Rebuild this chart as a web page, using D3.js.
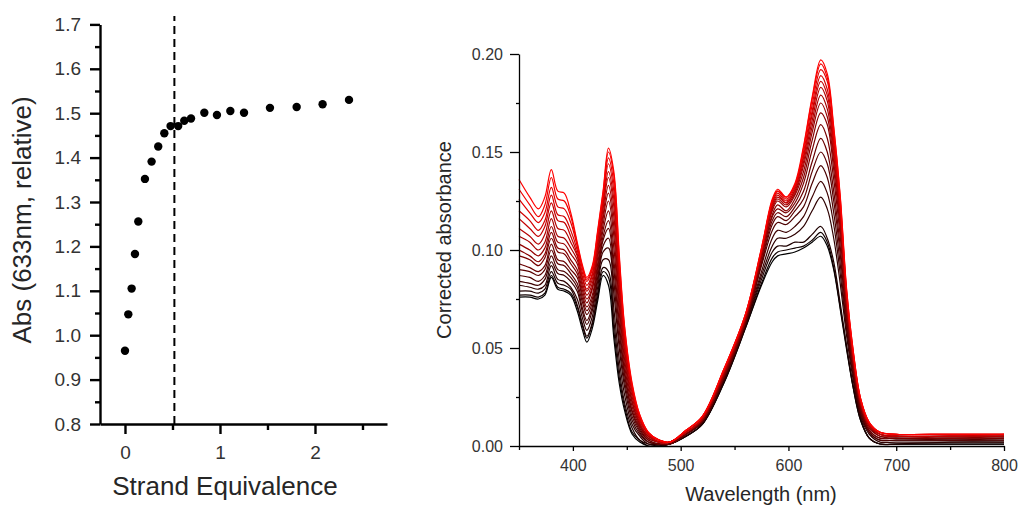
<!DOCTYPE html>
<html>
<head>
<meta charset="utf-8">
<script src="https://cdn.jsdelivr.net/npm/d3@7"></script>
<style>
  html, body { margin: 0; padding: 0; background: #fff; }
  svg { display: block; font-family: "Liberation Sans", Arial, sans-serif; }
</style>
</head>
<body>
<svg id="chart" width="1020" height="506"></svg>
<script>
// ---- Titration: absorbance at 633 nm vs strand equivalence ----
const strandEq = [0, 0.035, 0.07, 0.105, 0.14, 0.21, 0.28, 0.35, 0.414, 0.48, 0.56,
  0.624, 0.695, 0.835, 0.968, 1.109, 1.253, 1.526, 1.807, 2.08, 2.358];
const absRelative = [0.965, 1.047, 1.105, 1.183, 1.256, 1.352, 1.391, 1.425, 1.455, 1.471, 1.471,
  1.483, 1.488, 1.501, 1.496, 1.505, 1.501, 1.512, 1.514, 1.520, 1.530];
const equivalencePoint = 0.52;
const absTicks = [0.8, 0.9, 1.0, 1.1, 1.2, 1.3, 1.4, 1.5, 1.6, 1.7];
const absMinorTicks = [0.85, 0.95, 1.05, 1.15, 1.25, 1.35, 1.45, 1.55, 1.65];
const eqTicks = [0, 1, 2];
const eqMinorTicks = [0.5, 1.5, 2.5];

// ---- Corrected absorbance spectra over the titration ----
const wavelengths = [350, 360, 368, 374, 380, 386, 392, 398, 404, 409, 413, 418, 423, 428, 433, 438,
  443, 448, 455, 462, 470, 480, 490, 505, 520, 540, 560, 575, 585, 590, 598, 606, 614, 622, 630,
  636, 642, 648, 654, 660, 667, 675, 685, 700, 750, 800];
const spectra = [
  [.076,.076,.075,.077,.086,.080,.079,.077,.069,.059,.053,.060,.074,.087,.082,.055,.032,.018,.006,.002,.000,.000,.001,.005,.011,.032,.060,.082,.094,.097,.098,.099,.101,.104,.107,.102,.090,.070,.049,.030,.013,.004,.001,.001,.001,.001],
  [.077,.077,.076,.078,.087,.081,.080,.078,.071,.061,.055,.062,.076,.089,.086,.059,.035,.020,.007,.003,.000,.000,.001,.005,.011,.032,.060,.083,.096,.099,.100,.101,.102,.105,.109,.104,.091,.071,.050,.030,.013,.004,.001,.001,.001,.001],
  [.079,.079,.078,.080,.089,.083,.082,.080,.072,.062,.056,.063,.078,.091,.089,.064,.039,.022,.009,.003,.001,.000,.001,.005,.011,.033,.061,.085,.099,.102,.102,.104,.104,.108,.112,.106,.094,.073,.051,.031,.014,.004,.001,.001,.002,.002],
  [.082,.081,.080,.082,.092,.085,.084,.081,.075,.065,.059,.066,.081,.095,.095,.070,.044,.026,.011,.005,.001,.001,.001,.006,.012,.033,.061,.087,.102,.106,.106,.108,.112,.120,.127,.121,.106,.083,.056,.034,.015,.006,.002,.002,.002,.002],
  [.084,.083,.082,.085,.094,.088,.087,.084,.079,.068,.062,.069,.084,.099,.101,.078,.050,.030,.013,.006,.002,.001,.001,.006,.012,.034,.062,.089,.106,.110,.109,.112,.117,.127,.135,.129,.113,.088,.059,.036,.016,.007,.003,.003,.003,.003],
  [.087,.086,.084,.087,.097,.090,.089,.086,.081,.070,.064,.071,.086,.102,.106,.084,.054,.033,.015,.007,.002,.001,.001,.006,.012,.034,.062,.092,.110,.114,.113,.117,.122,.134,.143,.137,.119,.093,.061,.038,.017,.007,.003,.003,.003,.003],
  [.090,.089,.087,.090,.100,.093,.092,.088,.083,.073,.067,.073,.089,.105,.111,.090,.059,.036,.017,.008,.003,.001,.001,.006,.013,.035,.063,.093,.113,.117,.115,.120,.126,.140,.150,.144,.125,.098,.064,.039,.018,.008,.004,.004,.003,.004],
  [.093,.091,.089,.092,.103,.095,.094,.090,.086,.075,.069,.075,.091,.107,.115,.095,.063,.038,.018,.009,.003,.001,.001,.006,.013,.035,.063,.094,.115,.119,.117,.122,.130,.145,.157,.150,.130,.102,.066,.041,.019,.008,.004,.004,.004,.004],
  [.097,.095,.092,.096,.106,.099,.098,.093,.088,.077,.071,.077,.093,.110,.120,.101,.068,.041,.020,.010,.004,.002,.002,.007,.013,.036,.064,.096,.117,.121,.119,.124,.134,.151,.164,.157,.136,.107,.069,.042,.020,.009,.005,.004,.004,.004],
  [.100,.097,.094,.098,.109,.101,.100,.095,.090,.079,.073,.080,.096,.113,.125,.107,.072,.044,.022,.011,.004,.002,.002,.007,.013,.036,.064,.096,.118,.123,.120,.126,.137,.156,.170,.164,.141,.111,.071,.043,.021,.010,.005,.005,.004,.005],
  [.103,.100,.097,.101,.112,.104,.103,.098,.093,.081,.075,.081,.098,.116,.129,.112,.076,.047,.023,.011,.005,.002,.002,.007,.014,.037,.065,.098,.120,.125,.122,.128,.140,.160,.175,.168,.145,.114,.072,.044,.021,.010,.006,.005,.005,.005],
  [.107,.104,.100,.104,.116,.107,.106,.101,.095,.083,.077,.083,.100,.118,.133,.117,.080,.049,.025,.012,.005,.002,.002,.007,.014,.037,.065,.098,.121,.126,.123,.129,.143,.163,.179,.172,.148,.116,.074,.045,.022,.010,.006,.005,.005,.005],
  [.111,.107,.103,.108,.120,.111,.110,.104,.097,.085,.079,.085,.102,.121,.137,.122,.084,.052,.027,.013,.006,.002,.002,.007,.014,.038,.066,.099,.122,.127,.124,.130,.145,.166,.183,.176,.151,.119,.075,.046,.022,.011,.006,.005,.005,.005],
  [.116,.111,.107,.112,.124,.115,.114,.107,.098,.086,.080,.087,.104,.123,.140,.126,.087,.054,.028,.014,.006,.002,.002,.007,.014,.038,.066,.099,.123,.128,.124,.131,.147,.169,.186,.179,.154,.121,.076,.047,.023,.011,.006,.005,.005,.006],
  [.120,.115,.110,.115,.128,.118,.117,.110,.100,.088,.082,.088,.106,.125,.144,.130,.090,.056,.029,.014,.006,.003,.002,.008,.015,.038,.066,.100,.124,.129,.125,.132,.148,.171,.189,.182,.156,.123,.077,.047,.023,.011,.007,.006,.006,.006],
  [.126,.119,.114,.119,.132,.122,.121,.114,.102,.090,.084,.090,.108,.127,.147,.134,.093,.058,.030,.015,.007,.003,.002,.008,.015,.039,.067,.100,.125,.130,.126,.133,.150,.174,.192,.186,.159,.125,.078,.048,.024,.012,.007,.006,.006,.006],
  [.131,.123,.117,.123,.137,.126,.125,.117,.103,.091,.085,.091,.109,.129,.150,.138,.096,.060,.031,.016,.007,.003,.002,.008,.015,.039,.067,.101,.125,.130,.127,.133,.152,.177,.195,.188,.162,.127,.079,.049,.024,.012,.007,.006,.006,.006],
  [.136,.127,.121,.127,.141,.130,.129,.119,.104,.092,.086,.092,.110,.130,.152,.140,.098,.061,.032,.016,.007,.003,.002,.008,.015,.039,.067,.101,.126,.131,.127,.134,.153,.178,.197,.190,.163,.128,.080,.049,.024,.012,.007,.006,.006,.006]
];
const corrTicks = [0, 0.05, 0.10, 0.15, 0.20];
const corrMinorTicks = [0.025, 0.075, 0.125, 0.175];
const wlTicks = [400, 500, 600, 700, 800];
const wlMinorTicks = [350, 450, 550, 650, 750];

const svg = d3.select("#chart");
const tickColor = "#333";
const titleColor = "#262626";

// ================= Left panel =================
const xL = d3.scaleLinear().domain([-0.263, 2.758]).range([100, 387]);
const yL = d3.scaleLinear().domain([0.8, 1.7]).range([424, 24.4]);
const left = svg.append("g");

function styleAxis(g, width, color, fontSize) {
  g.selectAll("path.domain").attr("stroke", "#000").attr("stroke-width", width);
  g.selectAll(".tick line").attr("stroke", "#000").attr("stroke-width", width);
  g.selectAll(".tick text").attr("fill", color).attr("font-size", fontSize)
    .attr("font-family", "'Liberation Sans', Arial, sans-serif");
}

// minor ticks
left.append("g").attr("transform", `translate(${xL.range()[0]},0)`)
  .call(d3.axisLeft(yL).tickValues(absMinorTicks).tickSize(5).tickSizeOuter(0).tickFormat(""))
  .call(g => { g.select("path.domain").remove(); styleAxis(g, 2.4, tickColor, 19); });
left.append("g").attr("transform", `translate(0,${yL.range()[0]})`)
  .call(d3.axisBottom(xL).tickValues(eqMinorTicks).tickSize(6).tickSizeOuter(0).tickFormat(""))
  .call(g => { g.select("path.domain").remove(); styleAxis(g, 2.4, tickColor, 19); });

// major axes
left.append("g").attr("transform", `translate(${xL.range()[0]},0)`)
  .call(d3.axisLeft(yL).tickValues(absTicks).tickSize(10).tickSizeOuter(0).tickPadding(9)
    .tickFormat(d3.format(".1f")))
  .call(g => styleAxis(g, 2.4, tickColor, 19));
left.append("g").attr("transform", `translate(0,${yL.range()[0]})`)
  .call(d3.axisBottom(xL).tickValues(eqTicks).tickSize(10).tickSizeOuter(0).tickPadding(12)
    .tickFormat(d3.format("d")))
  .call(g => styleAxis(g, 2.4, tickColor, 19));

// equivalence marker
left.append("line")
  .attr("x1", xL(equivalencePoint)).attr("x2", xL(equivalencePoint))
  .attr("y1", yL(0.8)).attr("y2", yL(1.719))
  .attr("stroke", "#000").attr("stroke-width", 2).attr("stroke-dasharray", "8,5");

// titration points
left.append("g").selectAll("circle")
  .data(strandEq.map((x, i) => ({ x, y: absRelative[i] })))
  .join("circle")
  .attr("cx", d => xL(d.x)).attr("cy", d => yL(d.y)).attr("r", 4.2)
  .attr("fill", "#000");

left.append("text")
  .attr("x", 225).attr("y", 495).attr("text-anchor", "middle")
  .attr("font-size", 26).attr("fill", titleColor)
  .text("Strand Equivalence");
left.append("text")
  .attr("transform", "translate(31,220) rotate(-90)").attr("text-anchor", "middle")
  .attr("font-size", 26).attr("fill", titleColor)
  .text("Abs (633nm, relative)");

// ================= Right panel =================
const xR = d3.scaleLinear().domain([350, 800]).range([519, 1004]);
const yR = d3.scaleLinear().domain([0, 0.2]).range([446, 54]);
const right = svg.append("g");

const color = d3.scaleLinear().domain([0, spectra.length - 1])
  .range(["#000000", "#ff0000"]).interpolate(d3.interpolateRgb);

const line = d3.line()
  .x((d, i) => xR(wavelengths[i]))
  .y(d => yR(d))
  .curve(d3.curveCatmullRom.alpha(0.5));

right.append("g").selectAll("path")
  .data(spectra)
  .join("path")
  .attr("d", line)
  .attr("fill", "none")
  .attr("stroke", (d, i) => color(i))
  .attr("stroke-width", 1.2);

right.append("g").attr("transform", `translate(${xR.range()[0]},0)`)
  .call(d3.axisLeft(yR).tickValues(corrMinorTicks).tickSize(3).tickSizeOuter(0).tickFormat(""))
  .call(g => { g.select("path.domain").remove(); styleAxis(g, 1.3, tickColor, 16); });
right.append("g").attr("transform", `translate(0,${yR.range()[0]})`)
  .call(d3.axisBottom(xR).tickValues(wlMinorTicks).tickSize(4).tickSizeOuter(0).tickFormat(""))
  .call(g => { g.select("path.domain").remove(); styleAxis(g, 1.3, tickColor, 16); });

right.append("g").attr("transform", `translate(${xR.range()[0]},0)`)
  .call(d3.axisLeft(yR).tickValues(corrTicks).tickSize(9).tickSizeOuter(0).tickPadding(7)
    .tickFormat(d3.format(".2f")))
  .call(g => styleAxis(g, 1.3, tickColor, 16));
right.append("g").attr("transform", `translate(0,${yR.range()[0]})`)
  .call(d3.axisBottom(xR).tickValues(wlTicks).tickSize(5).tickSizeOuter(0).tickPadding(9)
    .tickFormat(d3.format("d")))
  .call(g => styleAxis(g, 1.3, tickColor, 16));

right.append("text")
  .attr("x", 761).attr("y", 501).attr("text-anchor", "middle")
  .attr("font-size", 20).attr("fill", titleColor)
  .text("Wavelength (nm)");
right.append("text")
  .attr("transform", "translate(451,240) rotate(-90)").attr("text-anchor", "middle")
  .attr("font-size", 20).attr("fill", titleColor)
  .text("Corrected absorbance");
</script>
</body>
</html>
